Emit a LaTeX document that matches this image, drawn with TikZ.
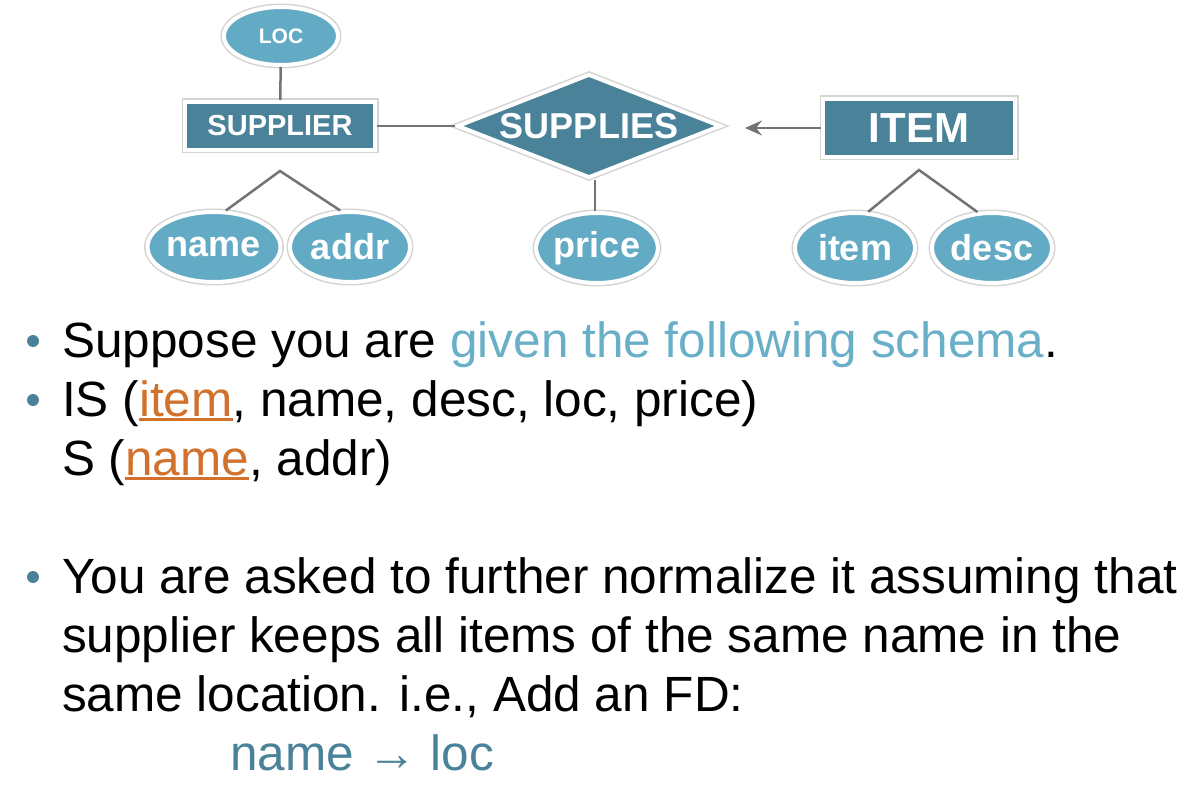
\documentclass[tikz,border=0pt]{standalone}
\usepackage{fontspec}
\setmainfont{Liberation Sans}
\usetikzlibrary{arrows.meta, positioning, shapes.geometric}

\definecolor{attrblue}{HTML}{63AAC5}
\definecolor{entteal}{HTML}{4A8399}
\definecolor{linkgray}{HTML}{737373}
\definecolor{hiblue}{HTML}{69AFC8}
\definecolor{keyorange}{HTML}{D2712C}
\definecolor{rimgray}{HTML}{D4D4D4}

\newcommand{\keyattr}[1]{\textcolor{keyorange}{\setbox0\hbox{#1}\rlap{\rule[-5pt]{\wd0}{3pt}}\box0}}

\begin{document}
\begin{tikzpicture}[x=1pt, y=-1pt]
\tikzset{
  rim/.style={preaction={draw=rimgray, line width=7pt}},
  attr/.style={
    ellipse,
    rim,
    draw=white,
    line width=4pt,
    fill=attrblue,
    minimum width=120pt,
    minimum height=70pt,
    inner sep=0pt,
    text=white,
    font=\bfseries\fontsize{36}{36}\selectfont
  },
  entity/.style={
    rectangle,
    rim,
    draw=white,
    line width=4pt,
    fill=entteal,
    inner sep=0pt,
    text=white
  },
  rel/.style={
    diamond,
    aspect=2.6,
    rim,
    draw=white,
    line width=4pt,
    fill=entteal,
    inner sep=0pt,
    text=white
  },
  link/.style={draw=linkgray, line width=2.5pt},
  line/.style={anchor=base west, inner sep=0pt, font=\fontsize{49.5}{59}\selectfont},
  dot/.style={circle, fill=entteal, minimum size=12pt, inner sep=0pt}
}
\useasboundingbox (0,0) rectangle (1198,786);

% Entities and relationship
\node[entity, minimum width=190pt, minimum height=48pt, font=\bfseries\fontsize{29}{29}\selectfont] (supplier) at (280,126) {SUPPLIER};
\node[entity, minimum width=192pt, minimum height=58pt, font=\bfseries\fontsize{42}{42}\selectfont] (item) at (919,128) {ITEM};
\node[rel, minimum width=264pt, minimum height=104pt, font=\bfseries\fontsize{36}{36}\selectfont] (supplies) at (589,126) {SUPPLIES};

% Attributes
\node[attr, minimum width=114pt, minimum height=58pt, font=\bfseries\fontsize{21}{21}\selectfont] (loc) at (281,36) {LOC};
\node[attr] (name) at (214,247) {name};
\node[attr] (addr) at (350,247) {addr};
\node[attr] (price) at (597,248) {price};
\node[attr] (itemkey) at (855,248) {item};
\node[attr] (desc) at (992,248) {desc};

% Connectors
\coordinate (supfork) at ([yshift=-19pt]supplier.south);
\coordinate (itemfork) at ([yshift=-11pt]item.south);
\draw[link] (loc) -- (supplier);
\draw[link] (supplier.east) -- (supplies.west);
\draw[link] ([xshift=6pt]supplies.south) -- ([xshift=6pt]supplies.south |- price.north);
\draw[link] (name.72) -- (supfork) -- (addr.105);
\draw[link] (itemkey.70) -- (itemfork) -- (desc.112);
\draw[link, -{Stealth[length=17pt, width=15pt, inset=6pt]}, shorten >=22pt] (item.west) -- (item.west -| supplies.east);

% Bullet text
\node[dot] (b1) at (33,341) {};
\node[dot] (b2) at (33,400) {};
\node[dot] (b3) at (33,577) {};
\node[line] (t1) at (62,357) {Suppose you are \textcolor{hiblue}{given the following schema}.};
\node[line] (t2) at (62,416) {IS (\keyattr{item}, name, desc, loc, price)};
\node[line] (t3) at (62,475) {S (\keyattr{name}, addr)};
\node[line] (t4) at (62,593) {You are asked to further normalize it assuming that};
\node[line] (t5) at (62,652) {supplier keeps all items of the same name in the};
\node[line] (t6) at (62,711) {same location. i.e., Add an FD:};
\node[line, text=entteal] (fd) at (230,770) {name → loc};
\end{tikzpicture}
\end{document}
